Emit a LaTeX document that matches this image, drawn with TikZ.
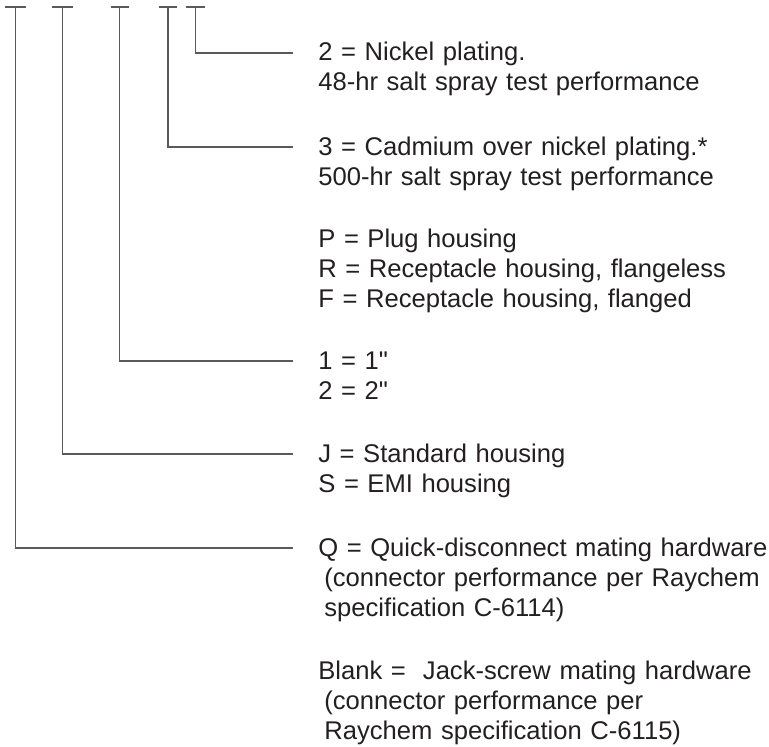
\documentclass[tikz,border=0pt]{standalone}
\usepackage{fontspec}
\setmainfont{Liberation Sans}[Ligatures=TeXOff]
\definecolor{PNText}{HTML}{231F20}
\definecolor{PNLine}{HTML}{5A5A5A}

\begin{document}
\begin{tikzpicture}[x=0.5pt,y=0.5pt,
  lead/.style={PNLine,line width=.6pt},
  code/.style={anchor=base west,inner sep=0pt,text width=9cm,align=left,
    font=\fontsize{12.8pt}{15pt}\selectfont,text=PNText}]
\path[use as bounding box] (0,0) rectangle (769,746);
\coordinate (t1) at (15.5,739);
\coordinate (t2) at (62.5,739);
\coordinate (t3) at (119.5,739);
\coordinate (t4) at (168,739);
\coordinate (t5) at (195.5,739);
\draw[lead] ([xshift=-5.25pt]t1) -- ([xshift=5.25pt]t1);
\draw[lead] ([xshift=-5.25pt]t2) -- ([xshift=5.25pt]t2);
\draw[lead] ([xshift=-4.5pt]t3) -- ([xshift=4.5pt]t3);
\draw[lead] ([xshift=-4.5pt]t4) -- ([xshift=4.5pt]t4);
\draw[lead] ([xshift=-4.75pt]t5) -- ([xshift=4.75pt]t5);
\coordinate (e5) at (293,693);
\coordinate (e4) at (293,599);
\coordinate (e3) at (293,385);
\coordinate (e2) at (293,292);
\coordinate (e1) at (293,198);
\node[code] (plating) at (318,685) {2 = Nickel plating.\\48-hr salt spray test performance};
\node[code] (cadmium) at (318,591) {3 = Cadmium over nickel plating.*\\500-hr salt spray test performance};
\node[code] (housing) at (318,499) {P = Plug housing\\R = Receptacle housing, flangeless\\F = Receptacle housing, flanged};
\node[code] (length) at (318,377) {1 = 1"\\2 = 2"};
\node[code] (shield) at (318,284) {J = Standard housing\\S = EMI housing};
\node[code] (quick) at (318,190) {Q = Quick-disconnect mating hardware\\\hspace*{3pt}(connector performance per Raychem\\\hspace*{3pt}specification C-6114)};
\node[code] (blank) at (318,67) {Blank =\ \ Jack-screw mating hardware\\\hspace*{3pt}(connector performance per\\\hspace*{3pt}Raychem specification C-6115)};
\draw[lead] (t5) |- (e5);
\draw[lead] (t4) |- (e4);
\draw[lead] (t3) |- (e3);
\draw[lead] (t2) |- (e2);
\draw[lead] (t1) |- (e1);
\end{tikzpicture}
\end{document}
